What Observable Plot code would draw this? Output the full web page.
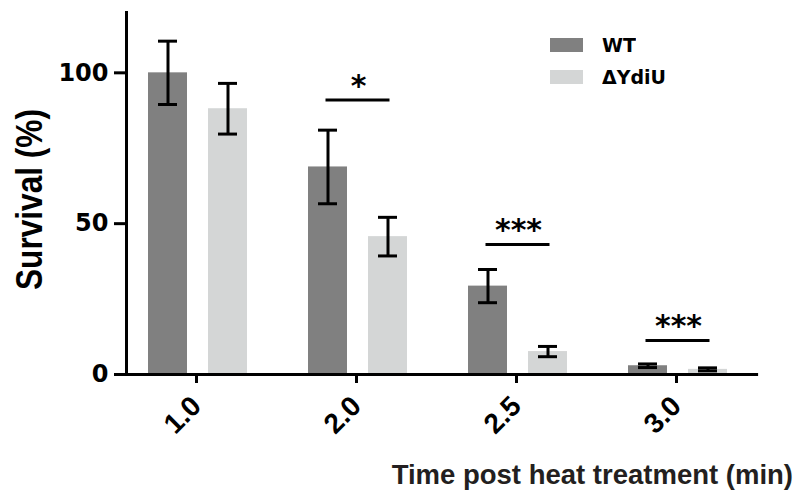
<!DOCTYPE html>
<html><head><meta charset="utf-8">
<script src="https://cdn.jsdelivr.net/npm/d3@7"></script>
<script src="https://cdn.jsdelivr.net/npm/@observablehq/plot@0.6"></script>
<style>
body{margin:0;background:#fff}
#wrap{position:relative;width:799px;height:498px;}
#xtitle{position:absolute;right:6px;top:461px;font:bold 27.5px 'Liberation Sans',Arial,sans-serif;line-height:27.5px;color:#231f20;white-space:nowrap}
#legend{position:absolute;left:550px;top:29px;width:220px}
.lg-swatch{padding-bottom:0 !important;height:32px}
.lg-swatches svg{margin-right:19px !important}
</style></head><body><div id="wrap"></div>
<script>
const times = ["1.0", "2.0", "2.5", "3.0"];
const groups = ["WT", "ΔYdiU"];
const wtMean = [100, 68.8, 29.3, 2.9];
const wtErr = [10.5, 12.2, 5.5, 0.6];
const ydiuMean = [88.1, 45.7, 7.6, 1.7];
const ydiuErr = [8.4, 6.4, 1.7, 0.5];
const sigTimes = ["2.0", "2.5", "3.0"];
const sigLabels = ["*", "***", "***"];
const sigLevels = [91.0, 43.1, 11.3];
const yTicks = [0, 50, 100];
const colors = ["#808080", "#d4d6d6"];
const yLabel = "Survival (%)";
const xLabel = "Time post heat treatment (min)";

const data = times.flatMap((t, i) => [
  {time: t, group: groups[0], mean: wtMean[i], err: wtErr[i]},
  {time: t, group: groups[1], mean: ydiuMean[i], err: ydiuErr[i]}
]);
const sig = sigTimes.map((t, i) => ({time: t, label: sigLabels[i], level: sigLevels[i]}));

const plot = Plot.plot({
  width: 799, height: 498,
  marginLeft: 125, marginRight: 48, marginTop: 12, marginBottom: 124,
  fx: {domain: times, paddingInner: 0.1, paddingOuter: 0},
  x: {domain: groups, paddingInner: 0.344, paddingOuter: 0.354, axis: null},
  y: {domain: [0, 120]},
  color: {domain: groups, range: colors},
  style: {background: "white", color: "black"},
  marks: [
    Plot.barY(data, {fx: "time", x: "group", y: "mean", fill: "group"}),
    Plot.ruleX(data, {fx: "time", x: "group", y1: d => d.mean - d.err, y2: d => d.mean + d.err, stroke: "black", strokeWidth: 3}),
    Plot.tickY(data, {fx: "time", x: "group", y: d => d.mean - d.err, insetLeft: 10, insetRight: 10, stroke: "black", strokeWidth: 3}),
    Plot.tickY(data, {fx: "time", x: "group", y: d => d.mean + d.err, insetLeft: 10, insetRight: 10, stroke: "black", strokeWidth: 3}),
    Plot.ruleY(sig, {fx: "time", x1: () => groups[0], x2: () => groups[1], y: "level", insetLeft: 17.5, insetRight: 17.5, stroke: "black", strokeWidth: 3}),
    Plot.text(sig, {fx: "time", text: "label", y: "level", lineAnchor: "bottom", dy: -4, fontSize: 30, fontWeight: "bold", fontFamily: "DejaVu Sans", fill: "black"}),
    Plot.ruleY([0], {stroke: "black", strokeWidth: 3, insetLeft: -8.1, insetRight: -8.1}),
    Plot.frame({anchor: "left", facetAnchor: "left", stroke: "black", strokeWidth: 3}),
    Plot.axisY({ticks: yTicks, tickSize: 12, tickPadding: 6, strokeWidth: 3, fontSize: 24, fontWeight: "bold", fontFamily: "DejaVu Sans", label: null}),
    Plot.axisFx({anchor: "bottom", tickSize: 9, tickPadding: 18, strokeWidth: 3, tickRotate: -45, dx: -2, fontSize: 28, fontWeight: "bold", fontFamily: "Liberation Sans", label: null}),
    Plot.text([yLabel], {text: d => d, frameAnchor: "left", facetAnchor: "left", dx: -96.5, dy: 6, rotate: -90, textAnchor: "middle", lineAnchor: "middle", fontSize: 37, fontWeight: "bold", fontFamily: "Liberation Sans", fill: "black", className: "ylab"})
  ]
});

// condense the y label like the reference's narrow face
d3.select(plot).selectAll(".ylab text").attr("textLength", 181).attr("lengthAdjust", "spacingAndGlyphs");

const wrap = document.getElementById("wrap");
wrap.appendChild(plot);

const leg = plot.legend("color", {columns: 1, swatchWidth: 33, swatchHeight: 14, className: "lg",
  style: {fontSize: "19px", fontFamily: "DejaVu Sans", fontWeight: "bold", color: "black"}});
const legBox = document.createElement("div");
legBox.id = "legend";
legBox.appendChild(leg);
wrap.appendChild(legBox);

const xt = document.createElement("div");
xt.id = "xtitle";
xt.textContent = xLabel;
wrap.appendChild(xt);
</script>
</body></html>
